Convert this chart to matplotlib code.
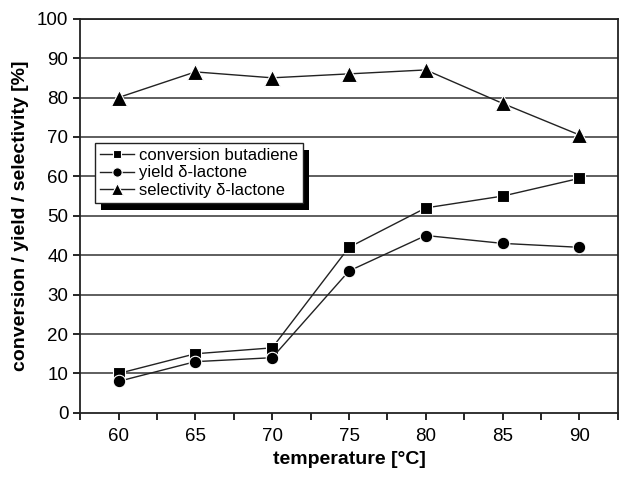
import numpy as np
import matplotlib.pyplot as plt
from matplotlib.patches import Rectangle

plt.rcParams['font.family'] = ['Liberation Sans', 'DejaVu Sans']

temperatures = ['60', '65', '70', '75', '80', '85', '90']
conversion = [10, 15, 16.5, 42, 52, 55, 59.5]
yield_lactone = [8, 13, 14, 36, 45, 43, 42]
selectivity = [80, 86.5, 85, 86, 87, 78.5, 70.5]


def main():
    fig = plt.figure(figsize=(6.21, 4.79), dpi=100)
    ax = fig.add_axes([0.129, 0.138, 0.866, 0.823])
    x = np.arange(len(temperatures))

    for yv in range(10, 101, 10):
        ax.axhline(yv, color='#333333', lw=1.1, zorder=1)

    style = dict(color='#222222', lw=1.0, markerfacecolor='black',
                 markeredgecolor='white', mew=0.8, zorder=3)
    ax.plot(x, conversion, marker='s', ms=8, label='conversion butadiene', **style)
    ax.plot(x, yield_lactone, marker='o', ms=9, label='yield \u03b4-lactone', **style)
    ax.plot(x, selectivity, marker='^', ms=11, label='selectivity \u03b4-lactone', **style)

    ax.set_xlim(-0.5, len(temperatures) - 0.5)
    ax.set_ylim(0, 100)
    ax.set_xticks(x)
    ax.set_xticklabels(temperatures)
    ax.set_xticks(np.arange(-0.5, len(temperatures), 1.0), minor=True)
    ax.tick_params(axis='x', which='both', direction='out', length=5, width=1.2, labelsize=13.5, pad=6)
    ax.set_yticks(range(0, 101, 10))
    ax.tick_params(axis='y', direction='out', length=5, width=1.2, labelsize=13.5)
    for s in ax.spines.values():
        s.set_linewidth(1.3)
        s.set_color('#222222')
    ax.set_xlabel('temperature [\u00b0C]', fontsize=14, fontweight='bold', labelpad=4)
    ax.set_ylabel('conversion / yield / selectivity [%]', fontsize=14, fontweight='bold', labelpad=6)

    leg = ax.legend(loc='upper left', bbox_to_anchor=(0.028, 0.685), fancybox=False,
                    frameon=True, fontsize=12, handlelength=2.0, handletextpad=0.3,
                    borderpad=0.3, labelspacing=0.15, borderaxespad=0, markerscale=0.75)
    leg.get_frame().set_edgecolor('#222222')
    leg.get_frame().set_linewidth(1.0)
    leg.get_frame().set_alpha(1)
    leg.set_zorder(6)

    # Excel-like drop shadow behind the legend box
    fig.canvas.draw()
    bb = leg.get_window_extent().transformed(ax.transAxes.inverted())
    dx = 6 / ax.bbox.width
    dy = 7 / ax.bbox.height
    shadow = Rectangle((bb.x0 + dx, bb.y0 - dy), bb.width, bb.height, transform=ax.transAxes,
                       facecolor='black', edgecolor='none', zorder=5)
    ax.add_patch(shadow)

    fig.savefig('out.png', dpi=100)


if __name__ == "__main__":
    main()
